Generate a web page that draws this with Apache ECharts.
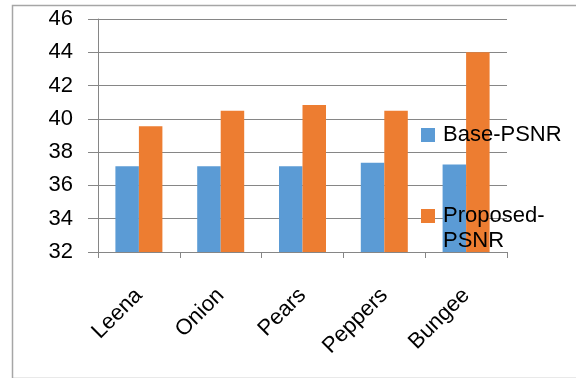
<!DOCTYPE html>
<html>
<head>
<meta charset="utf-8">
<script src="https://cdn.jsdelivr.net/npm/echarts@6/dist/echarts.min.js"></script>
<style>
html,body{margin:0;padding:0;background:#fff;}
#chart{width:576px;height:378px;}
</style>
</head>
<body>
<div id="chart"></div>
<script>
const categories = ['Leena', 'Onion', 'Pears', 'Peppers', 'Bungee'];
const seriesNames = ['Base-PSNR', 'Proposed-PSNR'];
const basePSNR = [37.15, 37.15, 37.15, 37.37, 37.26];
const proposedPSNR = [39.55, 40.49, 40.83, 40.49, 44.0];
const yTicks = [32, 34, 36, 38, 40, 42, 44, 46];

const FONT = '"Liberation Sans", Arial, sans-serif';
const chart = echarts.init(document.getElementById('chart'), null, {renderer: 'canvas'});
chart.setOption({
  animation: false,
  backgroundColor: '#fff',
  graphic: [{
    type: 'rect', left: 10, top: 3, silent: true,
    shape: {x: 0, y: 0, width: 580, height: 373},
    style: {fill: 'none', stroke: '#a6a6a6', lineWidth: 1.5}
  }],
  grid: {left: 98, right: 69, top: 19, bottom: 126, containLabel: false},
  legend: [{
    data: [seriesNames[0]],
    orient: 'vertical', left: 421, top: 122.5, padding: 0,
    itemWidth: 14, itemHeight: 14, itemGap: 5,
    icon: 'rect',
    textStyle: {fontFamily: FONT, fontSize: 22, color: '#000', lineHeight: 25, padding: [0, 0, 0, 3]}
  }, {
    data: [seriesNames[1]],
    orient: 'vertical', left: 421, top: 203.5, padding: 0,
    itemWidth: 14, itemHeight: 39,
    icon: 'path://M0,0h14v14h-14zM0,39L14,39',
    formatter: function (n) { return 'Proposed-\nPSNR'; },
    textStyle: {fontFamily: FONT, fontSize: 22, color: '#000', lineHeight: 25, padding: [0, 0, 0, 3]}
  }],
  xAxis: {
    type: 'category',
    data: categories,
    axisLine: {show: true, lineStyle: {color: '#868686', width: 1}},
    axisTick: {show: true, length: 6, lineStyle: {color: '#868686'}},
    axisLabel: {rotate: 45, margin: 40, fontFamily: FONT, fontSize: 22, color: '#000', interval: 0}
  },
  yAxis: {
    type: 'value',
    min: yTicks[0], max: yTicks[yTicks.length - 1], interval: 2,
    axisLine: {show: true, lineStyle: {color: '#868686', width: 1}},
    axisTick: {show: true, length: 10, lineStyle: {color: '#868686'}},
    splitLine: {show: true, lineStyle: {color: '#868686', width: 1}},
    axisLabel: {margin: 25, fontFamily: FONT, fontSize: 22, color: '#000'}
  },
  series: [{
    name: seriesNames[0], type: 'bar', data: basePSNR,
    barWidth: 23.5, barGap: '0%',
    itemStyle: {color: '#5b9bd5'}
  }, {
    name: seriesNames[1], type: 'bar', data: proposedPSNR,
    barWidth: 23.5, barGap: '0%',
    itemStyle: {color: '#ed7d31'}
  }]
});
</script>
</body>
</html>
